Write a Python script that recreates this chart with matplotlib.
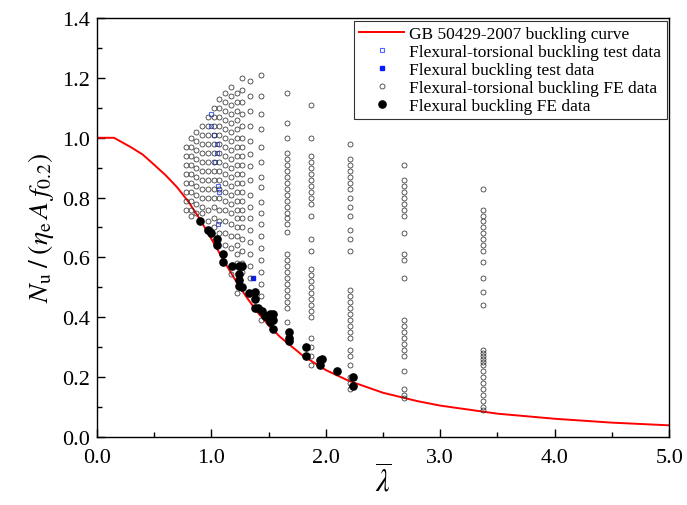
import numpy as np
import matplotlib.pyplot as plt
from matplotlib.ticker import MultipleLocator, FormatStrFormatter

plt.rcParams['font.family'] = ['Liberation Serif', 'DejaVu Serif']
plt.rcParams['mathtext.fontset'] = 'stix'

lam_curve = [0.0, 0.15, 0.3, 0.4, 0.5, 0.6, 0.7, 0.8, 0.9, 1.0, 1.1, 1.2, 1.3, 1.4,
             1.5, 1.6, 1.8, 2.0, 2.2, 2.5, 2.8, 3.0, 3.5, 4.0, 4.5, 5.0]
phi_curve = [1.0, 1.0, 0.968, 0.944, 0.910, 0.875, 0.835, 0.786, 0.728, 0.662, 0.595,
             0.530, 0.471, 0.418, 0.373, 0.334, 0.271, 0.223, 0.187, 0.147, 0.119,
             0.104, 0.077, 0.060, 0.047, 0.038]

# flexural-torsional buckling FE results, grouped by slenderness
ft_fe_cols = {
    0.78: [0.97, 0.94, 0.91, 0.88, 0.85, 0.82, 0.79, 0.76],
    0.82: [1.00, 0.97, 0.94, 0.91, 0.88, 0.85, 0.82, 0.79, 0.76, 0.74],
    0.87: [1.02, 0.99, 0.96, 0.93, 0.90, 0.87, 0.84, 0.81, 0.78, 0.75],
    0.92: [1.04, 1.01, 0.98, 0.95, 0.92, 0.89, 0.86, 0.83, 0.80, 0.77, 0.75],
    0.97: [1.07, 1.04, 1.01, 0.98, 0.95, 0.92, 0.89, 0.86, 0.83, 0.80, 0.76, 0.72],
    1.02: [1.10, 1.07, 1.04, 1.01, 0.98, 0.95, 0.92, 0.89, 0.86, 0.83, 0.80, 0.77, 0.73, 0.70],
    1.07: [1.13, 1.10, 1.07, 1.04, 1.01, 0.98, 0.95, 0.92, 0.89, 0.86, 0.83, 0.80, 0.76, 0.72, 0.68],
    1.12: [1.15, 1.12, 1.09, 1.06, 1.03, 1.00, 0.97, 0.94, 0.91, 0.88, 0.85, 0.82, 0.79,
           0.76, 0.72, 0.68, 0.64],
    1.17: [1.17, 1.14, 1.11, 1.08, 1.05, 1.02, 0.99, 0.96, 0.93, 0.90, 0.87, 0.84, 0.81,
           0.78, 0.75, 0.71, 0.67, 0.63, 0.545],
    1.22: [1.15, 1.12, 1.09, 1.06, 1.03, 1.00, 0.97, 0.94, 0.91, 0.88, 0.85, 0.82, 0.79,
           0.76, 0.73, 0.70, 0.67, 0.64, 0.61, 0.58, 0.48],
    1.27: [1.20, 1.16, 1.12, 1.08, 1.04, 1.00, 0.97, 0.94, 0.91, 0.88, 0.85, 0.82, 0.79,
           0.76, 0.73, 0.70, 0.66, 0.62, 0.58, 0.55],
    1.34: [1.19, 1.14, 1.09, 1.04, 0.99, 0.945, 0.905, 0.86, 0.81, 0.77, 0.73, 0.69,
           0.65, 0.61, 0.57, 0.53],
    1.43: [1.21, 1.14, 1.08, 1.03, 0.97, 0.92, 0.87, 0.835, 0.785, 0.75, 0.71, 0.67,
           0.63, 0.59, 0.55, 0.51, 0.47, 0.39],
    1.66: [1.15, 1.05, 1.00, 0.95, 0.93, 0.91, 0.89, 0.87, 0.85, 0.83, 0.81, 0.79, 0.77,
           0.75, 0.73, 0.71, 0.685, 0.61, 0.59, 0.57, 0.55, 0.53, 0.51, 0.49, 0.47,
           0.45, 0.43, 0.385],
    1.87: [1.11, 1.00, 0.94, 0.92, 0.90, 0.88, 0.86, 0.84, 0.82, 0.80, 0.78, 0.74, 0.66,
           0.62, 0.56, 0.54, 0.52, 0.50, 0.48, 0.46, 0.44, 0.42, 0.40, 0.33, 0.30,
           0.27, 0.24],
    2.21: [0.98, 0.93, 0.91, 0.89, 0.87, 0.85, 0.83, 0.80, 0.77, 0.74, 0.69, 0.66, 0.62,
           0.49, 0.47, 0.45, 0.43, 0.41, 0.39, 0.37, 0.35, 0.33, 0.29, 0.27, 0.24,
           0.20, 0.18, 0.16],
    2.68: [0.91, 0.86, 0.84, 0.82, 0.80, 0.78, 0.76, 0.74, 0.68, 0.61, 0.59, 0.53, 0.39,
           0.37, 0.35, 0.33, 0.31, 0.29, 0.27, 0.22, 0.16, 0.14, 0.13],
    3.37: [0.83, 0.76, 0.74, 0.72, 0.70, 0.68, 0.66, 0.64, 0.62, 0.585, 0.53, 0.485,
           0.44, 0.29, 0.28, 0.27, 0.26, 0.25, 0.24, 0.22, 0.20, 0.18, 0.16, 0.14,
           0.12, 0.10, 0.09],
}
ft_fe_lam = [lam for lam, col in ft_fe_cols.items() for _ in col]
ft_fe_phi = [v for col in ft_fe_cols.values() for v in col]

# flexural buckling FE results
fb_fe_lam = [0.90, 0.97, 1.00, 1.05, 1.05, 1.10, 1.10, 1.18, 1.24, 1.24, 1.24, 1.24,
             1.27, 1.27, 1.33, 1.38, 1.38, 1.38, 1.41, 1.44, 1.47, 1.49, 1.51, 1.51,
             1.54, 1.54, 1.54, 1.68, 1.68, 1.68, 1.83, 1.83, 1.95, 1.95, 1.97, 2.10,
             2.24, 2.24]
fb_fe_phi = [0.72, 0.69, 0.68, 0.66, 0.64, 0.61, 0.585, 0.57, 0.57, 0.545, 0.525, 0.505,
             0.57, 0.50, 0.48, 0.485, 0.46, 0.43, 0.43, 0.42, 0.405, 0.40, 0.41, 0.385,
             0.41, 0.39, 0.36, 0.35, 0.33, 0.32, 0.30, 0.27, 0.255, 0.24, 0.26, 0.22,
             0.20, 0.17]

# test results
ft_test_lam = [1.00, 1.00, 1.02, 1.05, 1.05, 1.03, 1.06, 1.07, 1.06]
ft_test_phi = [1.08, 1.04, 1.01, 0.98, 0.95, 0.92, 0.84, 0.82, 0.71]
fb_test_lam = [1.36, 1.37, 1.38]
fb_test_phi = [0.53, 0.48, 0.46]

fig = plt.figure(figsize=(6.87, 5.06), dpi=100)
ax = fig.add_axes([0.141, 0.135, 0.833, 0.827])

ax.plot(lam_curve, phi_curve, color='red', lw=1.4, label='GB 50429-2007 buckling curve')
ax.plot(ft_test_lam, ft_test_phi, ls='none', marker='s', ms=3, mfc='none', mec='#5068ff',
        mew=0.8, label='Flexural-torsional buckling test data')
ax.plot(fb_test_lam, fb_test_phi, ls='none', marker='s', ms=3.5, mfc='#0a1aff', mec='#0a1aff',
        label='Flexural buckling test data')
ax.plot(ft_fe_lam, ft_fe_phi, ls='none', marker='o', ms=3.6, mfc='none', mec='#303030',
        mew=0.55, label='Flexural-torsional buckling FE data')
ax.plot(fb_fe_lam, fb_fe_phi, ls='none', marker='o', ms=5.2, mfc='black', mec='black',
        label='Flexural buckling FE data')

ax.set_xlim(0, 5)
ax.set_ylim(0, 1.4)
ax.xaxis.set_major_locator(MultipleLocator(1.0))
ax.xaxis.set_minor_locator(MultipleLocator(0.5))
ax.yaxis.set_major_locator(MultipleLocator(0.2))
ax.yaxis.set_minor_locator(MultipleLocator(0.1))
ax.xaxis.set_major_formatter(FormatStrFormatter('%.1f'))
ax.yaxis.set_major_formatter(FormatStrFormatter('%.1f'))
ax.tick_params(which='both', direction='in', labelsize=16, width=1)
ax.tick_params(which='major', length=6)
ax.tick_params(which='minor', length=3.5)
ax.tick_params(axis='x', which='major', pad=8)
ax.tick_params(axis='y', which='major', pad=5)
for s in ax.spines.values():
    s.set_linewidth(1)

ax.set_xlabel(r'$\overline{\lambda}$', fontsize=22, labelpad=-2)
ax.set_ylabel(r'$N_{\mathrm{u}}\;/\;(\eta_{\mathrm{e}}\,A\;f_{0.2})$', fontsize=20, labelpad=4)

leg = ax.legend(loc='upper right', fontsize=12.5, frameon=True, fancybox=False,
                edgecolor='black', handlelength=2.6, borderaxespad=0.15,
                labelspacing=0.1, handletextpad=0.3, borderpad=0.3)
leg.get_frame().set_linewidth(0.8)

fig.savefig('out.png', dpi=100)
